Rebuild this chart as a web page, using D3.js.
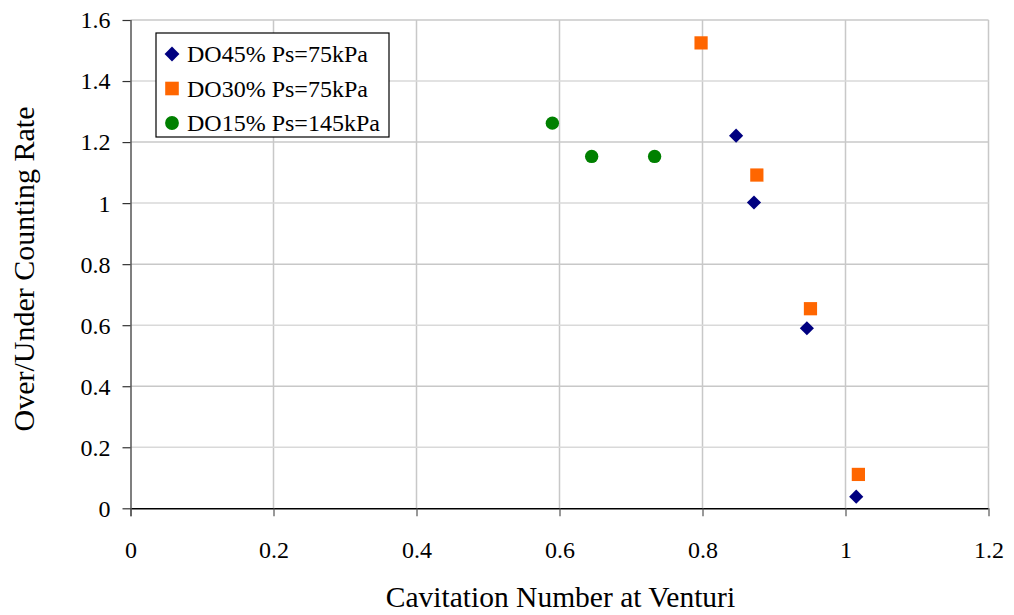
<!DOCTYPE html>
<html lang="en">
  <head>
    <meta charset="utf-8" />
    <title>Over/Under Counting Rate vs Cavitation Number</title>
    <script type="text/javascript" src="https://d3js.org/d3.v7.min.js"></script>
    <style>
      body { margin: 0; background: #fff; }
      text { font-family: "Liberation Serif", "Times New Roman", serif; fill: #000; }
    </style>
  </head>

  <body>
    <div class="div_d3"></div>

    <script type="text/javascript">
      let w = 1014;
      let h = 615;

      // series data
      let do45X = [0.847, 0.872, 0.946, 1.015];
      let do45Y = [1.221, 1.002, 0.590, 0.038];
      let do30X = [0.798, 0.876, 0.951, 1.018];
      let do30Y = [1.525, 1.092, 0.654, 0.111];
      let do15X = [0.590, 0.645, 0.733];
      let do15Y = [1.262, 1.153, 1.153];

      let seriesNames = ["DO45% Ps=75kPa", "DO30% Ps=75kPa", "DO15% Ps=145kPa"];
      let xTicks = [0, 0.2, 0.4, 0.6, 0.8, 1, 1.2];
      let yTicks = [0, 0.2, 0.4, 0.6, 0.8, 1, 1.2, 1.4, 1.6];

      // plot area edges
      let pLeft = 130.5, pRight = 988.5, pTop = 20, pBottom = 508.3;

      let svg = d3
        .select(".div_d3")
        .append("svg")
        .attr("width", w)
        .attr("height", h);

      let x = d3.scaleLinear().domain([0, 1.2]).range([pLeft, pRight]);
      let y = d3.scaleLinear().domain([0, 1.6]).range([pBottom, pTop]);

      // gridlines
      svg
        .selectAll(".vgrid")
        .data(xTicks.slice(1))
        .join("line")
        .attr("class", "vgrid")
        .attr("x1", (d) => x(d))
        .attr("x2", (d) => x(d))
        .attr("y1", pTop)
        .attr("y2", pBottom)
        .style("stroke", "#c8c8c8")
        .style("stroke-width", 1.5);

      svg
        .selectAll(".hgrid")
        .data(yTicks.slice(1))
        .join("line")
        .attr("class", "hgrid")
        .attr("x1", pLeft)
        .attr("x2", pRight)
        .attr("y1", (d) => y(d))
        .attr("y2", (d) => y(d))
        .style("stroke", (d, i) => (i % 2 == 0 ? "#d9d9d9" : "#c8c8c8"))
        .style("stroke-width", 1.5);

      // axes
      let xAxis = d3
        .axisBottom(x)
        .tickValues(xTicks)
        .tickSize(8)
        .tickFormat((d) => d3.format("~g")(d));
      let yAxis = d3
        .axisLeft(y)
        .tickValues(yTicks)
        .tickSize(8)
        .tickFormat((d) => d3.format("~g")(d));

      let gx = svg
        .append("g")
        .attr("transform", `translate(0,${pBottom})`)
        .call(xAxis);
      gx.select(".domain").attr("d", `M${pLeft},0.5H${pRight}`).style("stroke", "#000").style("stroke-width", 1.5);
      gx.selectAll(".tick line").style("stroke", "#555").style("stroke-width", 1.2);
      gx.selectAll(".tick text")
        .attr("y", 50)
        .attr("dy", 0)
        .style("font-size", "24px")
        .style("font-family", "Liberation Serif, serif");

      let gy = svg
        .append("g")
        .attr("transform", `translate(${pLeft},0)`)
        .call(yAxis);
      gy.select(".domain").attr("d", `M0.5,${pTop}V${pBottom + 8}`).style("stroke", "#555").style("stroke-width", 1.5);
      gy.selectAll(".tick line").style("stroke", "#333").style("stroke-width", 1.2);
      gy.selectAll(".tick text")
        .attr("x", -20)
        .attr("dy", "0.33em")
        .style("font-size", "24px")
        .style("font-family", "Liberation Serif, serif");

      // axis titles
      svg
        .append("text")
        .attr("x", (pLeft + pRight) / 2 + 1)
        .attr("y", 607)
        .attr("text-anchor", "middle")
        .style("font-size", "29.5px")
        .text("Cavitation Number at Venturi");

      svg
        .append("text")
        .attr("transform", `translate(34,269) rotate(-90)`)
        .attr("text-anchor", "middle")
        .style("font-size", "30px")
        .text("Over/Under Counting Rate");

      // markers
      let diamond = d3.symbol().type(d3.symbolDiamond2).size(128);
      let square = d3.symbol().type(d3.symbolSquare).size(175);
      let circle = d3.symbol().type(d3.symbolCircle).size(140);

      svg
        .selectAll(".do45")
        .data(do45X)
        .join("path")
        .attr("class", "do45")
        .attr("d", diamond)
        .attr("transform", (d, i) => `translate(${x(d)},${y(do45Y[i])})`)
        .style("fill", "#000080");

      svg
        .selectAll(".do30")
        .data(do30X)
        .join("path")
        .attr("class", "do30")
        .attr("d", square)
        .attr("transform", (d, i) => `translate(${x(d)},${y(do30Y[i])})`)
        .style("fill", "#ff6600");

      svg
        .selectAll(".do15")
        .data(do15X)
        .join("path")
        .attr("class", "do15")
        .attr("d", circle)
        .attr("transform", (d, i) => `translate(${x(d)},${y(do15Y[i])})`)
        .style("fill", "#008000");

      // legend
      let legend = svg.append("g").attr("transform", "translate(156,33)");
      legend
        .append("rect")
        .attr("width", 233)
        .attr("height", 104)
        .style("fill", "#fff")
        .style("stroke", "#000")
        .style("stroke-width", 1.2);

      let legendShapes = [
        d3.symbol().type(d3.symbolDiamond2).size(140),
        d3.symbol().type(d3.symbolSquare).size(185),
        d3.symbol().type(d3.symbolCircle).size(150),
      ];
      let legendColors = ["#000080", "#ff6600", "#008000"];

      legend
        .selectAll(".lmark")
        .data(seriesNames)
        .join("path")
        .attr("class", "lmark")
        .attr("d", (d, i) => legendShapes[i]())
        .attr("transform", (d, i) => `translate(16,${21 + i * 34.5})`)
        .style("fill", (d, i) => legendColors[i]);

      legend
        .selectAll(".ltext")
        .data(seriesNames)
        .join("text")
        .attr("class", "ltext")
        .attr("x", 31)
        .attr("y", (d, i) => 29 + i * 34.5)
        .style("font-size", "24px")
        .text((d) => d);
    </script>
  </body>
</html>
